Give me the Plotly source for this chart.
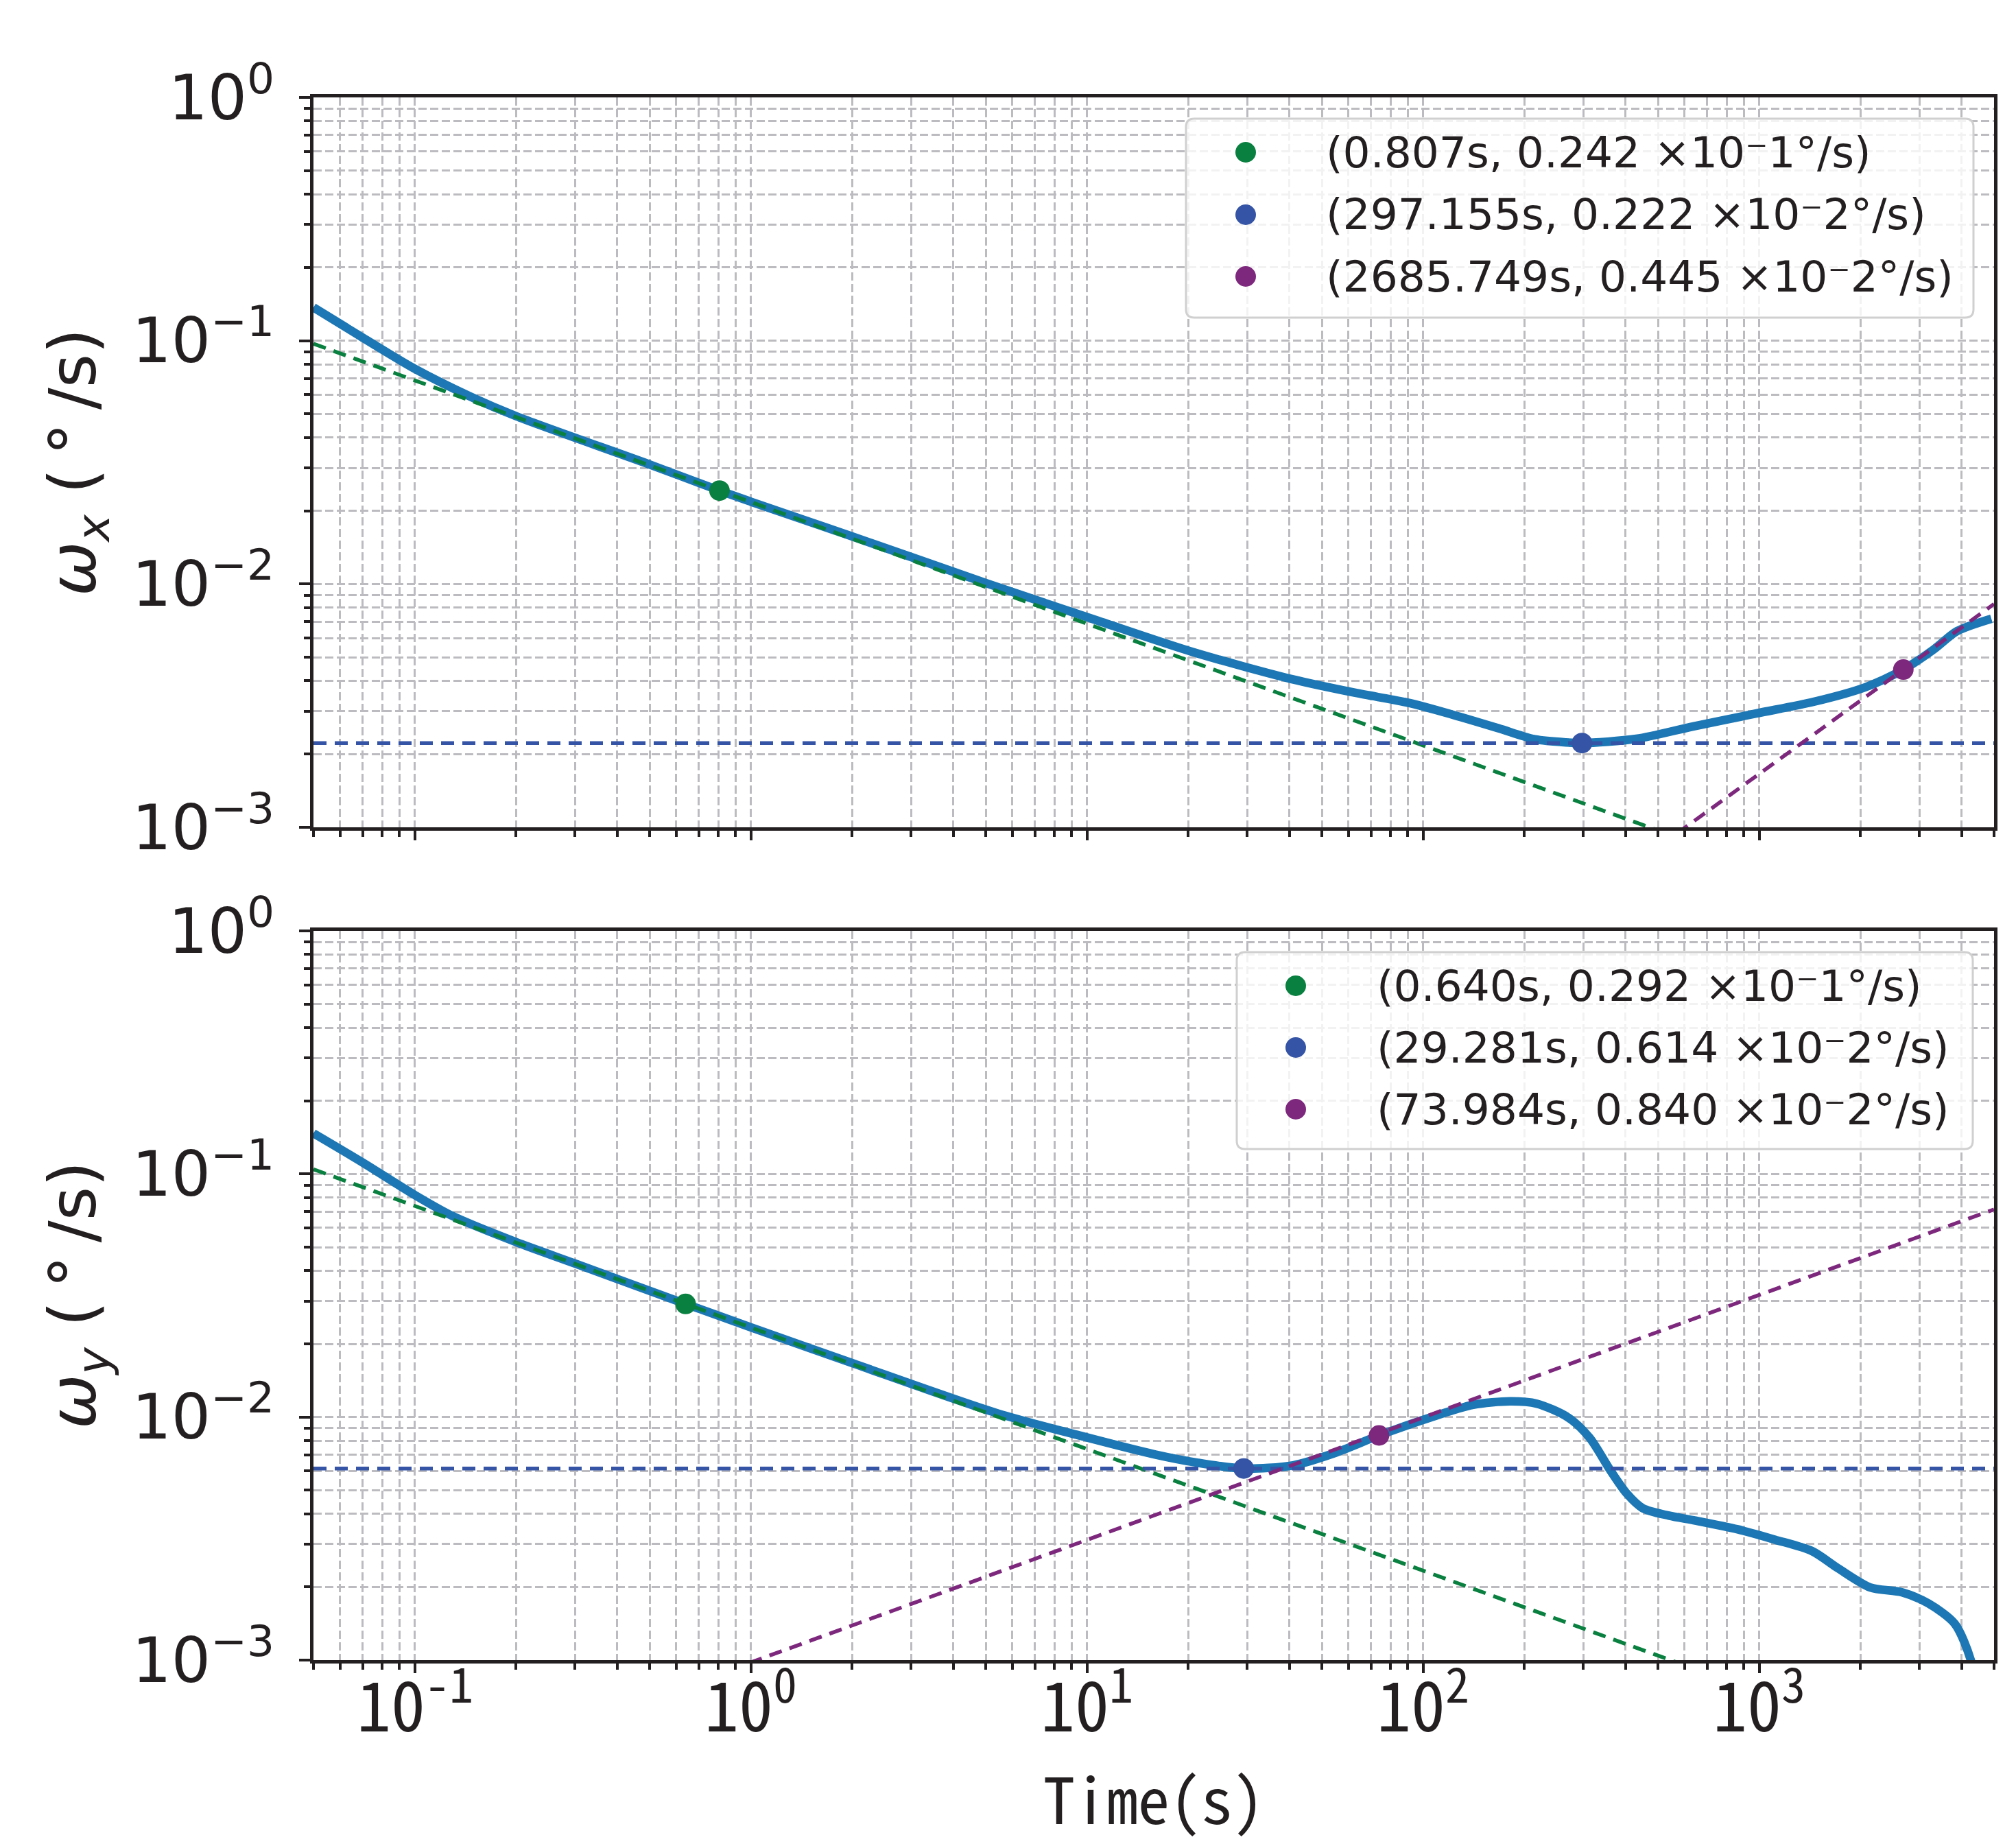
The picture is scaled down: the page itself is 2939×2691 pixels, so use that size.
import plotly.graph_objects as go
import math

# ---------------- data ----------------
t_top = [0.05, 0.07, 0.1, 0.147, 0.2, 0.5, 0.807, 1.0, 2.0, 5.0, 10.8, 20.5, 40.8,
         62.9, 91.3, 122.7, 168, 212, 259, 297.155, 431, 638, 984, 1453, 2066, 2685.749,
         3318, 3880, 4910]
w_top = [0.137, 0.103, 0.0767, 0.0588, 0.049, 0.031, 0.0242, 0.0218, 0.0157, 0.0101, 0.00706,
         0.00527, 0.00406, 0.00357, 0.00324, 0.0029, 0.00255, 0.00231, 0.00224,
         0.00222, 0.00231, 0.0026, 0.00294, 0.00328, 0.00376, 0.00445, 0.0054, 0.0064, 0.0072]

t_bot = [0.05, 0.07, 0.1, 0.13, 0.2, 0.3, 0.64, 1.0, 2.02, 5.37, 9.64, 15.97, 21.4, 29.281, 41.1,
         54.9, 73.984, 105, 141, 181.6, 218, 270.5, 313, 361, 403, 450, 539, 646, 864, 1114,
         1436, 1722, 2141, 2663, 3190, 3822, 4263, 4450]
w_bot = [0.147, 0.1115, 0.082, 0.067, 0.0525, 0.0428, 0.0292, 0.0234, 0.0166, 0.0104, 0.00835,
         0.00701, 0.00648, 0.00614, 0.00633, 0.00713, 0.0084, 0.00995, 0.01122, 0.0116, 0.01135,
         0.00995, 0.00822, 0.00603, 0.00486, 0.00422, 0.00393, 0.00375, 0.00345, 0.00313,
         0.00281, 0.00238, 0.00199, 0.0019, 0.00171, 0.00141, 0.001, 0.0007]

# marked points
pts_top_t = [0.807, 297.155, 2685.749]
pts_top_w = [0.0242, 0.00222, 0.00445]
pts_top_lbl = ["(0.807s, 0.242 ×10⁻1°/s)", "(297.155s, 0.222 ×10⁻2°/s)",
               "(2685.749s, 0.445 ×10⁻2°/s)"]
pts_bot_t = [0.640, 29.281, 73.984]
pts_bot_w = [0.0292, 0.00614, 0.0084]
pts_bot_lbl = ["(0.640s, 0.292 ×10⁻1°/s)", "(29.281s, 0.614 ×10⁻2°/s)",
               "(73.984s, 0.840 ×10⁻2°/s)"]

# fitted dashed lines (end points)
fit_top_green_t = [0.05, 5000]
fit_top_green_w = [0.0972, 0.000307]
fit_top_blue_t = [0.05, 5000]
fit_top_blue_w = [0.00222, 0.00222]
fit_top_purple_t = [400, 5000]
fit_top_purple_w = [0.000663, 0.00828]
fit_bot_green_t = [0.05, 5000]
fit_bot_green_w = [0.1045, 0.00033]
fit_bot_blue_t = [0.05, 5000]
fit_bot_blue_w = [0.00614, 0.00614]
fit_bot_purple_t = [0.5, 5000]
fit_bot_purple_w = [0.00069, 0.0715]

x_major = [0.1, 1, 10, 100, 1000]
x_major_text = ["10<sup>-1</sup>", "10<sup>0</sup>", "10<sup>1</sup>", "10<sup>2</sup>", "10<sup>3</sup>"]
x_minor = [0.05, 0.06, 0.07, 0.08, 0.09, 0.2, 0.3, 0.4, 0.5, 0.6, 0.7, 0.8, 0.9,
           2, 3, 4, 5, 6, 7, 8, 9, 20, 30, 40, 50, 60, 70, 80, 90,
           200, 300, 400, 500, 600, 700, 800, 900, 2000, 3000, 4000, 5000]
y_major = [0.001, 0.01, 0.1, 1]
y_major_text = ["10<sup>−3</sup>", "10<sup>−2</sup>", "10<sup>−1</sup>", "10<sup>0</sup>"]
y_minor = [0.002, 0.003, 0.004, 0.005, 0.006, 0.007, 0.008, 0.009,
           0.02, 0.03, 0.04, 0.05, 0.06, 0.07, 0.08, 0.09,
           0.2, 0.3, 0.4, 0.5, 0.6, 0.7, 0.8, 0.9]

# ---------------- styling ----------------
W, H = 2939, 2691
L, R, T, B = 457, 32, 142, 271
PW = W - L - R
PH = H - T - B
CURVE = "#1c77b4"
GREEN = "#0a8040"
BLUE = "#3554a5"
PURPLE = "#7d287d"
INK = "#231f20"
GRID = "#bcbcc0"
pt_colors = [GREEN, BLUE, PURPLE]
MONO = "Noto Sans Mono CJK JP, DejaVu Sans Mono, monospace"


def px(pix):
    return (pix - L) / PW


def py(pix):
    return (H - B - pix) / PH


fig = go.Figure()


def add_panel(xa, ya, t, w, fits, pts_t, pts_w):
    fig.add_trace(go.Scatter(x=t, y=w, mode="lines", xaxis=xa, yaxis=ya,
                             line=dict(color=CURVE, width=12.5, shape="spline", smoothing=0.8),
                             showlegend=False, hoverinfo="skip"))
    for (ft, fw), c in zip(fits, pt_colors):
        fig.add_trace(go.Scatter(x=ft, y=fw, mode="lines", xaxis=xa, yaxis=ya,
                                 line=dict(color=c, width=5.5, dash="19px,12px"),
                                 showlegend=False, hoverinfo="skip"))
    for xt, yw, c in zip(pts_t, pts_w, pt_colors):
        fig.add_trace(go.Scatter(x=[xt], y=[yw], mode="markers", xaxis=xa, yaxis=ya,
                                 marker=dict(color=c, size=30), showlegend=False))


add_panel("x", "y", t_top, w_top,
          [(fit_top_green_t, fit_top_green_w), (fit_top_blue_t, fit_top_blue_w),
           (fit_top_purple_t, fit_top_purple_w)],
          pts_top_t, pts_top_w)
add_panel("x2", "y2", t_bot, w_bot,
          [(fit_bot_green_t, fit_bot_green_w), (fit_bot_blue_t, fit_bot_blue_w),
           (fit_bot_purple_t, fit_bot_purple_w)],
          pts_bot_t, pts_bot_w)

grid_common = dict(showgrid=True, gridcolor=GRID, gridwidth=3, griddash="12px,5px")
minor_x = dict(tickvals=x_minor, ticks="outside", ticklen=9, tickwidth=4, tickcolor=INK,
               showgrid=True, gridcolor=GRID, gridwidth=3, griddash="12px,5px")
minor_y = dict(tickvals=y_minor, ticks="outside", ticklen=9, tickwidth=4, tickcolor=INK,
               showgrid=True, gridcolor=GRID, gridwidth=3, griddash="12px,5px")

xbase = dict(type="log", range=[math.log10(0.05), math.log10(5000)],
             tickvals=x_major, ticks="outside", ticklen=14, showticklabels=False,
             tickwidth=4, tickcolor=INK, showline=True, mirror=True, linecolor=INK,
             linewidth=5, zeroline=False, minor=minor_x, **grid_common)
ybase = dict(type="log", range=[-3, 0], tickvals=y_major, ticktext=y_major_text,
             ticks="outside", ticklen=16, tickwidth=4, tickcolor=INK, showline=True,
             mirror=True, linecolor=INK, linewidth=5, zeroline=False, minor=minor_y,
             ticklabelstandoff=18,
             tickfont=dict(family="DejaVu Sans", size=90, color=INK), **grid_common)

top_dom = [py(1206), 1.0]
bot_dom = [0.0, py(1357)]

fig.update_layout(
    width=W, height=H, autosize=False,
    margin=dict(l=L, r=R, t=T, b=B),
    paper_bgcolor="white", plot_bgcolor="white",
    showlegend=False,
    xaxis=dict(xbase, anchor="y", domain=[0, 1], matches="x2"),
    yaxis=dict(ybase, anchor="x", domain=top_dom),
    xaxis2=dict(xbase, anchor="y2", domain=[0, 1]),
    yaxis2=dict(ybase, anchor="x2", domain=bot_dom),
    font=dict(family="DejaVu Sans", color=INK),
)

# x tick labels of the bottom axis (placed under the major ticks)
for tv, tt in zip(x_major, x_major_text):
    fig.add_annotation(text=tt, xref="x2", yref="paper", x=math.log10(tv), y=py(2477),
                       xanchor="center", yanchor="middle", showarrow=False,
                       font=dict(family=MONO, size=100, color=INK))


# ---------------- hand-built legends (matplotlib style) ----------------
def rounded_box(x0, y0, x1, y1, r=12):
    X0, X1 = px(x0), px(x1)
    Yt, Yb = py(y0), py(y1)
    rx, ry = r / PW, r / PH
    return (f"M {X0+rx},{Yt} L {X1-rx},{Yt} Q {X1},{Yt} {X1},{Yt-ry} "
            f"L {X1},{Yb+ry} Q {X1},{Yb} {X1-rx},{Yb} L {X0+rx},{Yb} "
            f"Q {X0},{Yb} {X0},{Yb+ry} L {X0},{Yt-ry} Q {X0},{Yt} {X0+rx},{Yt} Z")


def add_legend(box, rows_y, mark_x, text_x, labels):
    fig.add_shape(type="path", path=rounded_box(*box), xref="paper", yref="paper",
                  fillcolor="rgba(255,255,255,0.8)", line=dict(color="#d0d0d0", width=3),
                  layer="above")
    for yy, lb, c in zip(rows_y, labels, pt_colors):
        fig.add_shape(type="circle", xref="paper", yref="paper",
                      xsizemode="pixel", ysizemode="pixel",
                      xanchor=px(mark_x), yanchor=py(yy), x0=-15, x1=15, y0=-15, y1=15,
                      fillcolor=c, line=dict(width=0), layer="above")
        fig.add_annotation(text=lb, xref="paper", yref="paper", x=px(text_x), y=py(yy),
                           xanchor="left", yanchor="middle", showarrow=False,
                           font=dict(family="DejaVu Sans", size=63, color=INK))


add_legend((1729, 173, 2877, 463), [222, 313, 403], 1816, 1931, pts_top_lbl)
add_legend((1803, 1388, 2876, 1675), [1437, 1527, 1617], 1889, 2005, pts_bot_lbl)

# ---------------- axis titles ----------------
title_font = dict(family="DejaVu Sans", size=95, color=INK)
fig.add_annotation(text="<i>ω</i><sub><i>x</i></sub> (\u2009°\u2009/s)", textangle=-90,
                   xref="paper", yref="paper", x=px(113), y=py(674),
                   xanchor="center", yanchor="middle", showarrow=False, font=title_font)
fig.add_annotation(text="<i>ω</i><sub><i>y</i></sub> (\u2009°\u2009/s)", textangle=-90,
                   xref="paper", yref="paper", x=px(113), y=py(1888),
                   xanchor="center", yanchor="middle", showarrow=False, font=title_font)
fig.add_annotation(text="Time(s)", xref="paper", yref="paper", x=px(1682),
                   y=py(2618), xanchor="center", yanchor="middle", showarrow=False,
                   font=dict(family=MONO, size=92, color=INK))

fig.write_html("out.html")
